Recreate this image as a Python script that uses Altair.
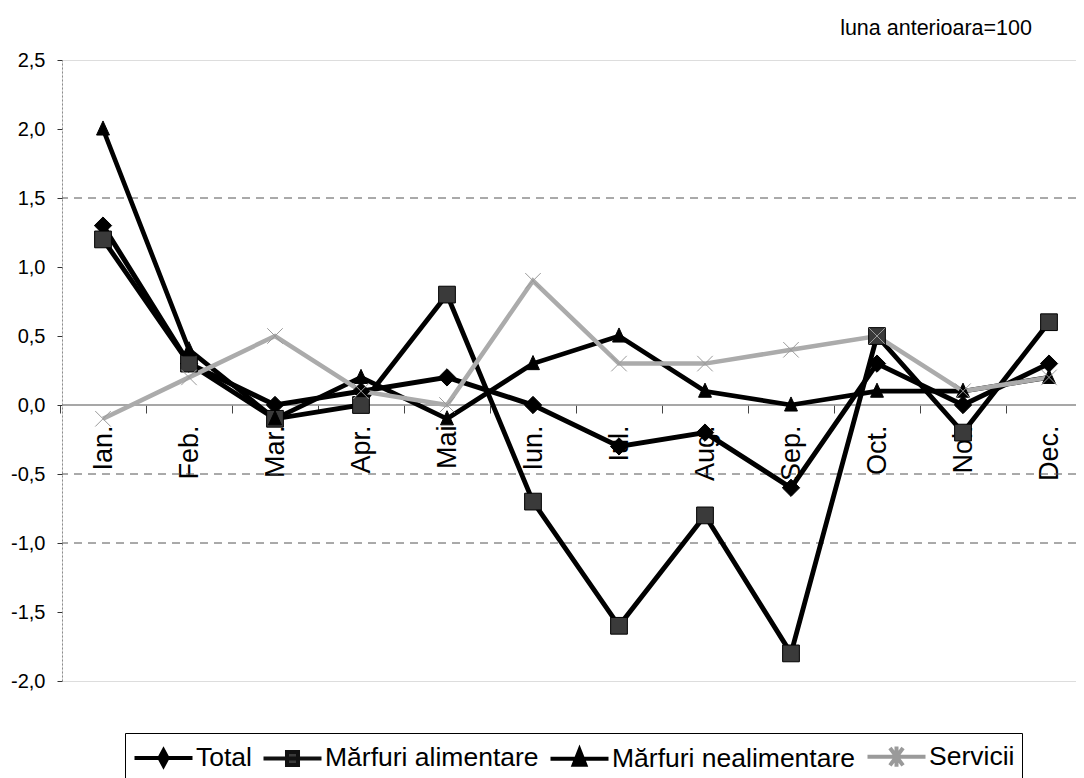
import altair as alt
import pandas as pd

MONTHS = ["Ian.", "Feb.", "Mar.", "Apr.", "Mai", "Iun.", "Iul.", "Aug.", "Sep.", "Oct.", "Noi.", "Dec."]
SERIES = ["Total", "Mărfuri alimentare", "Mărfuri nealimentare", "Servicii"]
TOTAL = [1.3, 0.3, 0.0, 0.1, 0.2, 0.0, -0.3, -0.2, -0.6, 0.3, 0.0, 0.3]
ALIM = [1.2, 0.3, -0.1, 0.0, 0.8, -0.7, -1.6, -0.8, -1.8, 0.5, -0.2, 0.6]
NEAL = [2.0, 0.4, -0.1, 0.2, -0.1, 0.3, 0.5, 0.1, 0.0, 0.1, 0.1, 0.2]
SERV = [-0.1, 0.2, 0.5, 0.1, 0.0, 0.9, 0.3, 0.3, 0.4, 0.5, 0.1, 0.2]
Y_TICKS = [-2.0, -1.5, -1.0, -0.5, 0.0, 0.5, 1.0, 1.5, 2.0, 2.5]
GRID_VALUES = [1.5, -0.5, -1.0]
ZERO = [0.0]
NOTE = ["luna anterioara=100"]

REG = "Liberation Sans, Arial, sans-serif"

rows = []
for name, vals in zip(SERIES, [TOTAL, ALIM, NEAL, SERV]):
    for m, v in zip(MONTHS, vals):
        rows.append({"luna": m, "serie": name, "valoare": v})
df = pd.DataFrame(rows)

# styles
LINE_COLORS = ["#000000", "#000000", "#000000", "#ababab"]
LINE_WIDTHS = [5, 4.5, 6, 3]
PT_PATHS = [
    "M0,-1L1,0L0,1L-1,0Z",
    "M-1,-1H1V1H-1Z",
    "M-0.8,0.75L0,-1L0.8,0.75Z",
    "M-1,-1L1,1M-1,1L1,-1",
]
PT_FILL = ["#000000", "#3a3a3a", "#000000", "transparent"]
PT_STROKE = ["#000000", "#000000", "#000000", "#9a9a9a"]
PT_SW = [1, 1, 1, 1.5]
PT_SIZE = [300, 240, 560, 400]

LEG_PATHS = [
    "M-2,0L2,0M0,-0.52L0.28,0L0,0.52L-0.28,0Z",
    "M-2,0L2,0M-0.38,-0.45H0.38V0.45H-0.38Z",
    "M-2,0L2,0M-0.4,0.4L0,-0.62L0.4,0.4Z",
    "M-2,0L2,0M-0.45,-0.6L0.45,0.6M-0.45,0.6L0.45,-0.6M0,-0.7L0,0.7",
]
LEG_FILL = ["#000000", "#3a3a3a", "#000000", "transparent"]
LEG_STROKE = ["#000000", "#111111", "#000000", "#9a9a9a"]
LEG_SW = [4, 4, 4, 1.5]

W, H = 1014, 621

X = alt.X(
    "luna:N",
    sort=MONTHS,
    scale=alt.Scale(type="band", domain=MONTHS, range=[-2, 1030], paddingInner=0, paddingOuter=0),
    axis=alt.Axis(
        orient="bottom", offset=-276, title=None, domain=False, tickBand="extent",
        tickSize=8, tickColor="#444444", tickWidth=1, labelAngle=270, labelAlign="right",
        labelBaseline="middle", labelFont=REG, labelFontSize=27, labelPadding=12,
        labelColor="black", labelOverlap=False, grid=False,
    ),
)

Y = alt.Y(
    "valoare:Q",
    scale=alt.Scale(domain=[-2, 2.5], nice=False, zero=False),
    axis=alt.Axis(
        values=Y_TICKS, title=None, grid=False,
        labelExpr="(datum.value < 0 ? '-' : '') + replace(format(abs(datum.value), '.1f'), '.', ',')",
        domainColor="#8c8c8c", domainDash=[2, 2], domainWidth=1,
        tickColor="#333333", tickSize=5, tickWidth=1,
        labelFont=REG, labelFontSize=20, labelColor="black", labelPadding=12,
    ),
)

grid = alt.Chart(pd.DataFrame({"valoare": GRID_VALUES})).mark_rule(
    color="#555555", strokeDash=[8, 6], strokeWidth=1
).encode(y=Y)

zero = alt.Chart(pd.DataFrame({"valoare": ZERO})).mark_rule(
    color="#8a8a8a", strokeWidth=1.5
).encode(y=Y)

lines = alt.Chart(df).mark_line().encode(
    x=X, y=Y,
    stroke=alt.Stroke("serie:N", scale=alt.Scale(domain=SERIES, range=LINE_COLORS), legend=None),
    strokeWidth=alt.StrokeWidth("serie:N", scale=alt.Scale(domain=SERIES, range=LINE_WIDTHS), legend=None),
)

points = alt.Chart(df).mark_point(filled=True, opacity=1).encode(
    x=X, y=Y,
    shape=alt.Shape("serie:N", scale=alt.Scale(domain=SERIES, range=PT_PATHS), legend=None),
    fill=alt.Fill("serie:N", scale=alt.Scale(domain=SERIES, range=PT_FILL), legend=None),
    stroke=alt.Stroke("serie:N", scale=alt.Scale(domain=SERIES, range=PT_STROKE), legend=None),
    strokeWidth=alt.StrokeWidth("serie:N", scale=alt.Scale(domain=SERIES, range=PT_SW), legend=None),
    size=alt.Size("serie:N", scale=alt.Scale(domain=SERIES, range=PT_SIZE), legend=None),
)

LEG = alt.Legend(
    title=None, orient="none", legendX=63, legendY=673, direction="horizontal",
    symbolSize=841, symbolOpacity=1, symbolOffset=15, labelFont=REG, labelFontSize=26.5,
    labelColor="black", labelLimit=600, labelOffset=16, columnPadding=3,
    padding=7, strokeColor="black", fillColor="white",
)

legend_layer = alt.Chart(df).mark_point(filled=True, opacity=0).encode(
    x=X, y=Y,
    shape=alt.Shape("serie:N", scale=alt.Scale(domain=SERIES, range=LEG_PATHS), legend=LEG),
    fill=alt.Fill("serie:N", scale=alt.Scale(domain=SERIES, range=LEG_FILL), legend=LEG),
    stroke=alt.Stroke("serie:N", scale=alt.Scale(domain=SERIES, range=LEG_STROKE), legend=LEG),
    strokeWidth=alt.StrokeWidth("serie:N", scale=alt.Scale(domain=SERIES, range=LEG_SW), legend=LEG),
)

note = alt.Chart(pd.DataFrame({"t": NOTE})).mark_text(
    align="right", baseline="alphabetic", font=REG, fontSize=21.5, color="black"
).encode(text="t:N", x=alt.value(970), y=alt.value(-25))

chart = alt.layer(grid, zero, lines, points, legend_layer, note).resolve_scale(
    shape="independent", fill="independent", stroke="independent",
    strokeWidth="independent", size="independent",
).properties(
    width=W, height=H,
    autosize=alt.AutoSizeParams(type="none"),
    padding={"left": 54, "top": 52, "right": 0, "bottom": 97},
).configure_view(stroke=None).configure(background="white")

chart.save("out.html", embed_options={"renderer": "svg", "actions": False})
